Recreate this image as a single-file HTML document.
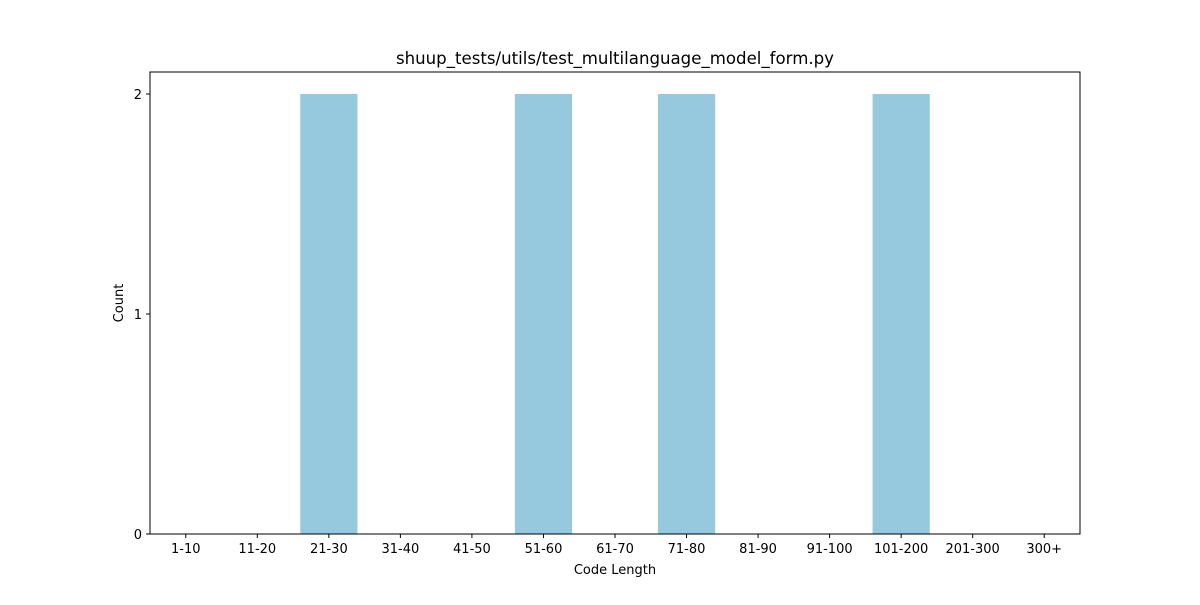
<!DOCTYPE html>
<html><head><meta charset="utf-8"><style>
body{margin:0;background:#fff;}
svg text{font-family:"DejaVu Sans","Liberation Sans",sans-serif;fill:#000;}
</style></head><body>
<svg id="chart" width="1200" height="600">
<rect width="1200" height="600" fill="#fff"/>
<text x="615" y="64" font-size="16.6" text-anchor="middle">shuup_tests/utils/test_multilanguage_model_form.py</text>
<g id="bars"></g>
<g id="axes"></g>
<rect x="150" y="72" width="930" height="462" fill="none" stroke="#000" stroke-width="1"/>
<text x="615" y="574" font-size="13" text-anchor="middle">Code Length</text>
<text x="123" y="303" font-size="13" text-anchor="middle" transform="rotate(-90 123 303)">Count</text>
</svg>
<script>
const categories=["1-10","11-20","21-30","31-40","41-50","51-60","61-70","71-80","81-90","91-100","101-200","201-300","300+"];
const counts=[0,0,2,0,0,2,0,2,0,0,2,0,0];
const yTicks=[0,1,2];
const L=150,R=1080,T=72,B=534,yMax=2.1;
const step=(R-L)/categories.length;
const xc=i=>L+step*(i+0.5);
const y=v=>B-(v/yMax)*(B-T);
const NS="http://www.w3.org/2000/svg";
const bars=document.getElementById('bars'),axes=document.getElementById('axes');
function mk(tag,a,p){const e=document.createElementNS(NS,tag);for(const k in a)e.setAttribute(k,a[k]);p.appendChild(e);return e;}
categories.forEach((c,i)=>{
  const w=step*0.8;
  const r=mk('rect',{x:xc(i)-w/2,y:y(counts[i]),width:w,height:B-y(counts[i]),fill:'#96c9dd'},bars);
  
  
  const t=mk('line',{x1:xc(i),x2:xc(i),y1:B,y2:B+4,stroke:'#000'},axes);
  
  
  const l=mk('text',{x:xc(i),y:B+19,'font-size':13,'text-anchor':'middle'},axes);
  l.textContent=c;
  
  
});
yTicks.forEach(v=>{
  const t=mk('line',{x1:L-4,x2:L,y1:y(v),y2:y(v),stroke:'#000'},axes);
  
  
  const l=mk('text',{x:L-8,y:y(v)+5,'font-size':13,'text-anchor':'end'},axes);
  l.textContent=v;
  
  
});
</script>
</body></html>
